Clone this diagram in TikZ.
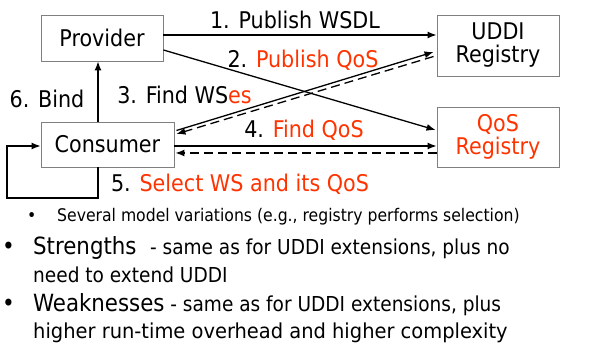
\documentclass[tikz,border=0pt]{standalone}
\usepackage{fontspec}
\setmainfont{DejaVu Sans Condensed}
\usetikzlibrary{arrows.meta}
\definecolor{qred}{RGB}{255,51,0}
\definecolor{boxgray}{RGB}{128,128,128}
\begin{document}
\begin{tikzpicture}[x=1pt,y=-1pt,
  box/.style={draw=boxgray,line width=0.9pt,rectangle,inner sep=0pt,align=center,font=\fontsize{23}{25}\selectfont},
  conn/.style={line width=1.3pt,-{Latex[length=9pt,width=7pt]}},
  dconn/.style={conn,dash pattern=on 9pt off 5pt},
  lbl/.style={inner sep=0pt,font=\fontsize{23}{25}\selectfont},
  txt/.style={inner sep=0pt,anchor=base west}]
\useasboundingbox (0,0) rectangle (589,344);
\node[box,minimum width=122pt,minimum height=46pt] (prov) at (102,38) {Provider};
\node[box,minimum width=133pt,minimum height=45pt] (cons) at (107.5,144.5) {Consumer};
\node[box,minimum width=122pt,minimum height=61pt] (uddi) at (498,45.5) {UDDI\\[-2pt]Registry};
\node[box,minimum width=122pt,minimum height=60pt,text=qred] (qos) at (498,137) {QoS\\[-2pt]Registry};
% 1
\draw[conn] ([yshift=3pt]prov.east) -- ([yshift=10.5pt]uddi.west);
% 2
\draw[conn] ([yshift=-12pt]prov.east) -- ([yshift=7pt,xshift=-1pt]qos.west);
% 3
\draw[conn] ([yshift=14pt,xshift=2pt]cons.east) -- ([yshift=-6.5pt,xshift=-3pt]uddi.west);
\draw[dconn] ([yshift=-11pt,xshift=-3pt]uddi.west) -- ([yshift=10.5pt,xshift=2pt]cons.east);
% 4
\draw[conn] ([yshift=-1.5pt]cons.east) -- ([yshift=-9pt]qos.west);
\draw[dconn] ([yshift=-16pt]qos.west) -- ([yshift=-8.5pt,xshift=1pt]cons.east);
% 5 loop
\coordinate (lc) at (7,198);
\draw[conn] ([xshift=-9.5pt]cons.south) |- (lc) |- ([yshift=-1.5pt]cons.west);
% 6 bind
\draw[conn] ([xshift=-9.5pt]cons.north) -- ([xshift=-9.5pt]cons.north |- prov.south);
% labels
\node[lbl] (l1) at (295,20) {1. Publish WSDL};
\node[lbl] (l2) at (303,60) {2. \textcolor{qred}{Publish QoS}};
\node[lbl] (l3) at (184.5,95) {3. Find WS\textcolor{qred}{es}};
\node[lbl] (l4) at (304,130) {4. \textcolor{qred}{Find QoS}};
\node[lbl] (l5) at (240,184) {5. \textcolor{qred}{Select WS and its QoS}};
\node[lbl] (l6) at (47,99) {6. Bind};
% bottom text
\node[txt,font=\fontsize{17.4}{19}\selectfont] (b0) at (27,222) {•};
\node[txt,font=\fontsize{17.4}{19}\selectfont] (t0) at (57,222) {Several model variations (e.g., registry performs selection)};
\node[txt,font=\fontsize{24}{26}\selectfont] (b1) at (2,255) {•};
\node[txt] (t1) at (33,255) {\fontsize{23.7}{27}\selectfont Strengths\ \ \fontsize{20.6}{22}\selectfont - same as for UDDI extensions, plus no};
\node[txt,font=\fontsize{20.6}{22}\selectfont] (t2) at (33,283) {need to extend UDDI};
\node[txt,font=\fontsize{24}{26}\selectfont] (b2) at (2,312) {•};
\node[txt] (t3) at (33,312) {\fontsize{23.7}{27}\selectfont Weaknesses\fontsize{20.6}{22}\selectfont\ - same as for UDDI extensions, plus};
\node[txt,font=\fontsize{20.6}{22}\selectfont] (t4) at (33,338.5) {\scalebox{1.05}[1]{higher run-time overhead and higher complexity}};
\end{tikzpicture}
\end{document}
